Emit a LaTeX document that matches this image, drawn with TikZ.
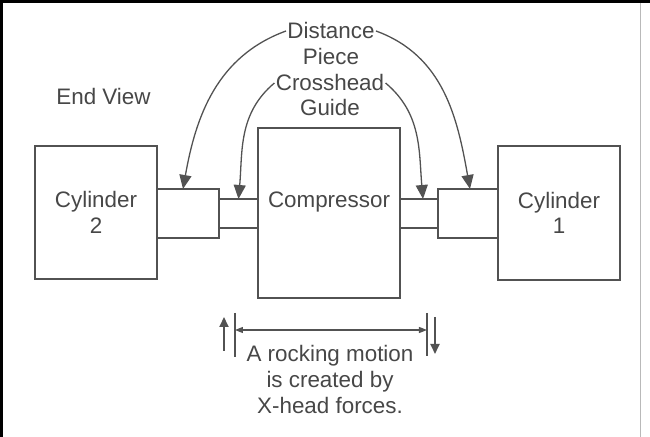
\documentclass[tikz,border=0pt]{standalone}
\usepackage{fontspec}
\setmainfont{Liberation Sans}
\usepackage{tikz}
\usetikzlibrary{arrows.meta}

\definecolor{ink}{gray}{0.28}
\definecolor{scan}{gray}{0.32}

\tikzset{
	box/.style={draw=scan,line width=0.65pt,inner sep=0pt,outer sep=0pt},
	lbl/.style={text=ink,font=\fontsize{11.2}{12.8}\selectfont,align=center,inner sep=1.5pt},
	wire/.style={draw=scan,line width=0.65pt},
	bigtip/.style={wire,-{Triangle[length=7pt,width=6pt]}},
	smalltip/.style={wire,-{Triangle[length=5pt,width=4.5pt]}},
}

\begin{document}
\begin{tikzpicture}[x=0.5pt,y=0.5pt]
		\useasboundingbox (0,0) rectangle (650,-437);
		% frame
		\fill[black] (0,0) rectangle (650,-3);
		\fill[black] (0,0) rectangle (3,-437);
		\draw[gray!55,line width=0.5pt] (641,-3) -- (641,-437);
		%
		\node[box,lbl,minimum width=61pt,minimum height=66.5pt] (cyl2) at (96,-212.5) {Cylinder\\2};
		\node[box,lbl,minimum width=61pt,minimum height=67pt] (cyl1) at (559,-213) {Cylinder\\1};
		\node[box,minimum width=71pt,minimum height=85pt] (comp) at (329,-213) {};
		\node[box,minimum width=31pt,minimum height=24.5pt] (dpL) at (188,-213.5) {};
		\node[box,minimum width=19.5pt,minimum height=14.5pt] (xgL) at (238.5,-213.5) {};
		\node[box,minimum width=19pt,minimum height=14.5pt] (xgR) at (419,-213.5) {};
		\node[box,minimum width=30pt,minimum height=24.5pt] (dpR) at (468,-213.5) {};
		%
		\node[lbl] (view) at (103.5,-97) {End View};
		\node[lbl] (clab) at (329,-202) {Compressor};
		\node[lbl,inner sep=0.5pt] (dist) at (331,-31) {Distance};
		\node[lbl] (piece) at (331,-57) {Piece};
		\node[lbl,inner sep=0.5pt] (xhead) at (330,-83) {Crosshead};
		\node[lbl] (guide) at (330,-108) {Guide};
		\node[lbl] (rock) at (330,-379.5) {A rocking motion\\is created by\\X-head forces.};
		%
		\coordinate (tl) at (235,-313);
		\coordinate (tl') at (235,-357);
		\coordinate (tr) at (427,-313);
		\coordinate (tr') at (427,-356);
		\coordinate (ml) at (235,-330);
		\coordinate (mr) at (427,-330);
		\coordinate (ub) at (224,-351);
		\coordinate (ut) at (224,-317);
		\coordinate (dt) at (435,-317);
		\coordinate (db) at (435,-354);
		%
		\path
		% outer arrows
		(dist.west) edge[bigtip,out=200,in=80] ([xshift=-2.5pt]dpL.north)
		(dist.east) edge[bigtip,out=-20,in=100] ([xshift=1pt]dpR.north)
		% inner arrows
		(xhead.west) edge[bigtip,out=220,in=85] (xgL.north)
		(xhead.east) edge[bigtip,out=-40,in=95] ([xshift=2pt]xgR.north);
		%
		\path
		(tl) edge[wire] (tl')
		(tr) edge[wire] (tr')
		(ml) edge[wire,{Triangle[length=4pt,width=3pt]}-{Triangle[length=4pt,width=3pt]}] (mr)
		(ub) edge[smalltip,line width=0.9pt] (ut)
		(dt) edge[smalltip,line width=0.9pt] (db);
\end{tikzpicture}
\end{document}
